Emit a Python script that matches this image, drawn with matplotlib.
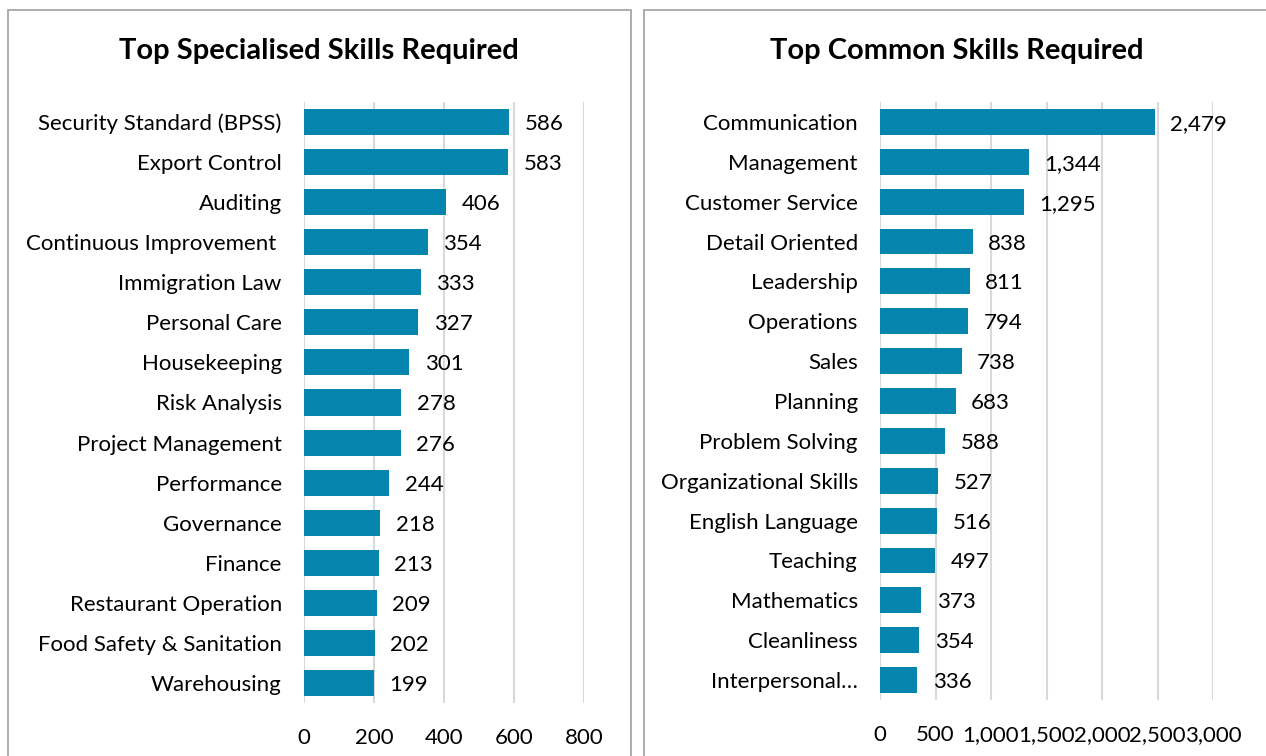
import matplotlib.pyplot as plt
from matplotlib.patches import Rectangle
from matplotlib.ticker import FuncFormatter

plt.rcParams['font.family'] = ['Lato', 'DejaVu Sans']

spec_skills = ['Security Standard (BPSS)', 'Export Control', 'Auditing',
               'Continuous Improvement ', 'Immigration Law', 'Personal Care',
               'Housekeeping', 'Risk Analysis', 'Project Management',
               'Performance', 'Governance', 'Finance', 'Restaurant Operation',
               'Food Safety & Sanitation', 'Warehousing']
spec_counts = [586, 583, 406, 354, 333, 327, 301, 278, 276, 244, 218, 213, 209, 202, 199]

common_skills = ['Communication', 'Management', 'Customer Service',
                 'Detail Oriented', 'Leadership', 'Operations', 'Sales',
                 'Planning', 'Problem Solving', 'Organizational Skills',
                 'English Language', 'Teaching', 'Mathematics', 'Cleanliness',
                 'Interpersonal\u2026']
common_counts = [2479, 1344, 1295, 838, 811, 794, 738, 683, 588, 527, 516, 497, 373, 354, 336]

BAR = '#0584ad'
GRID = '#d9d9d9'
W, H = 1266, 756

fig = plt.figure(figsize=(W / 100, H / 100), dpi=100)


def px(x0, y0, x1, y1):
    # pixel box (top-left origin) -> figure fraction rect
    return [x0 / W, 1 - y1 / H, (x1 - x0) / W, (y1 - y0) / H]


# panel frames
for x0, x1 in [(8, 631), (644, 1280)]:
    fig.patches.append(Rectangle((x0 / W, -0.1), (x1 - x0) / W, 1.1 - 10 / H,
                                 transform=fig.transFigure, fill=False,
                                 edgecolor='#a0a0a0', linewidth=1.2))


def draw(ax, names, vals, xmax, step, title, tcx):
    y = range(len(names))
    ax.barh(y, vals, height=0.65, color=BAR, zorder=3)
    ax.set_ylim(len(names) - 0.5, -0.5)
    ax.set_xlim(0, xmax)
    ax.set_xticks(range(0, xmax + 1, step))
    ax.xaxis.set_major_formatter(FuncFormatter(lambda v, p: f'{int(v):,}'))
    ax.set_yticks(list(y))
    ax.set_yticklabels(names, va='center_baseline')
    ax.grid(axis='x', color=GRID, linewidth=1.5, zorder=0)
    for s in ax.spines.values():
        s.set_visible(False)
    ax.tick_params(axis='y', length=0, pad=16, labelsize=16)
    ax.tick_params(axis='x', length=0, pad=18, labelsize=16)
    for i, v in enumerate(vals):
        ax.annotate(f'{v:,}', (v, i), xytext=(11, 0), textcoords='offset points',
                    va='center_baseline', ha='left', fontsize=16)
    fig.text(tcx / W, 1 - 51 / H, title, ha='center', va='center',
             fontsize=21, fontweight='bold')


ax1 = fig.add_axes(px(304, 102, 584, 703))
draw(ax1, spec_skills, spec_counts, 800, 200, 'Top Specialised Skills Required', 319)

ax2 = fig.add_axes(px(880, 102, 1213, 700))
draw(ax2, common_skills, common_counts, 3000, 500, 'Top Common Skills Required', 957)

fig.savefig('out.png', dpi=100)
